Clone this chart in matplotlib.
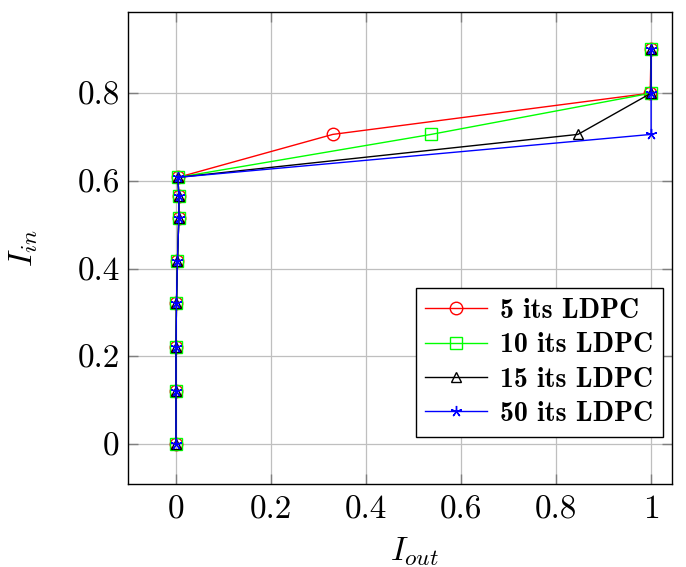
import matplotlib
matplotlib.use("Agg")
import matplotlib.pyplot as plt

plt.rcParams['mathtext.fontset'] = 'cm'
plt.rcParams['font.family'] = ['cmr10', 'DejaVu Serif']
plt.rcParams['axes.formatter.use_mathtext'] = True

y_common = [0.0, 0.12, 0.222, 0.321, 0.417, 0.515, 0.565, 0.608, 0.706, 0.80, 0.90]
x_low = [0.0, 0.0, 0.0, 0.001, 0.003, 0.006, 0.006, 0.004]

x5 = x_low + [0.33, 0.998, 1.0]
x10 = x_low + [0.537, 1.0, 1.0]
x15 = x_low + [0.846, 1.0, 1.0]
x50 = x_low + [1.0, 1.0, 1.0]

labels = ['5 its LDPC', '10 its LDPC', '15 its LDPC', '50 its LDPC']
colors = ['#ff0000', '#00ff00', '#000000', '#0000ff']
markers = ['o', 's', '^', (5, 2, 0)]
msizes = [9, 8, 7, 8]

fig = plt.figure(figsize=(6.86, 5.67), dpi=100)
ax = fig.add_axes([0.1866, 0.1464, 0.793, 0.8324])

for xs, lab, c, m, ms in zip([x5, x10, x15, x50], labels, colors, markers, msizes):
    ax.plot(xs, y_common, color=c, lw=1.0, marker=m, markersize=ms,
            markerfacecolor='none', markeredgecolor=c, markeredgewidth=1.0, label=lab)

ax.set_xlim(-0.101, 1.044)
ax.set_ylim(-0.091, 0.985)
ax.set_xticks([0, 0.2, 0.4, 0.6, 0.8, 1])
ax.set_xticklabels(['0', '0.2', '0.4', '0.6', '0.8', '1'])
ax.set_yticks([0, 0.2, 0.4, 0.6, 0.8])
ax.set_yticklabels(['0', '0.2', '0.4', '0.6', '0.8'])
ax.grid(True, color='#bfbfbf', lw=0.9)
ax.set_axisbelow(True)
ax.tick_params(direction='in', labelsize=24, length=7, width=1.0, color='#7f7f7f',
               top=True, right=True)
ax.tick_params(axis='y', pad=6)
ax.tick_params(axis='x', pad=8)
for s in ax.spines.values():
    s.set_linewidth(1.0)
ax.set_xlabel(r'$I_{out}$', fontsize=24)
ax.set_ylabel(r'$I_{in}$', fontsize=24)
ax.xaxis.set_label_coords(0.526, -0.108)
ax.yaxis.set_label_coords(-0.162, 0.5)

leg = ax.legend(loc='lower right', prop={'family': 'cmb10', 'size': 20}, frameon=True,
                fancybox=False, edgecolor='black', framealpha=1, borderpad=0.35,
                labelspacing=0.3, handlelength=2.2, handletextpad=0.5, borderaxespad=0,
                bbox_to_anchor=(0.984, 0.1))
leg.get_frame().set_linewidth(1.0)

fig.savefig('out.png', dpi=100)
